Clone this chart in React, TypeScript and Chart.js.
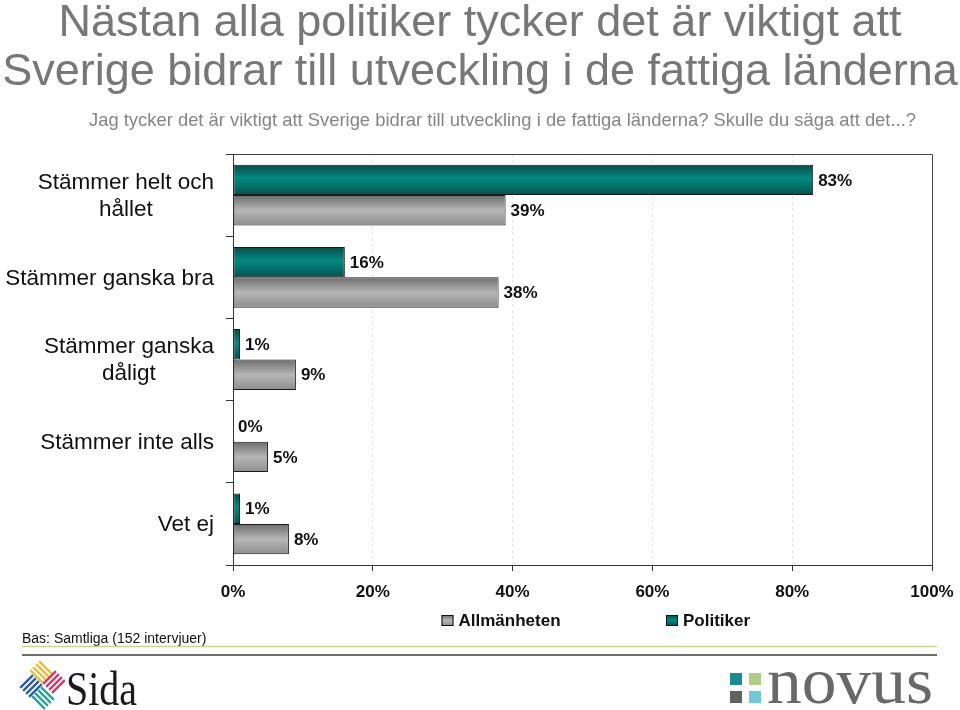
import React, { useEffect, useRef } from "react";
import { Chart, registerables } from "chart.js";

Chart.register(...registerables);

// ---------- data ----------
const categories: (string | string[])[] = [
  ["Stämmer helt och", "hållet"],
  "Stämmer ganska bra",
  ["Stämmer ganska", "dåligt"],
  "Stämmer inte alls",
  "Vet ej",
];
const politiker = [83, 16, 1, 0, 1];
const allmanheten = [39, 38, 9, 5, 8];
const xTickValues = [0, 20, 40, 60, 80, 100];
const seriesPolitiker = "Politiker";
const seriesAllmanheten = "Allmänheten";
const legendOrder = [seriesAllmanheten, seriesPolitiker];
const titleLines = [
  "Nästan alla politiker tycker det är viktigt att",
  "Sverige bidrar till utveckling i de fattiga länderna",
];
const subtitle =
  "Jag tycker det är viktigt att Sverige bidrar till utveckling i de fattiga länderna? Skulle du säga att det...?";
const footnote = "Bas: Samtliga (152 intervjuer)";
const logoLeft = "Sida";
const logoRight = "novus";

// ---------- styles ----------
const FONT = "'Liberation Sans', Arial, Helvetica, sans-serif";
const SERIF = "'Liberation Serif', 'Times New Roman', serif";
const CAT_PCT = 0.74;
const TEAL_STOPS: [number, string][] = [
  [0, "#0b4a47"],
  [0.45, "#038a82"],
  [1, "#06524e"],
];
const GRAY_STOPS: [number, string][] = [
  [0, "#6c6c6c"],
  [0.5, "#b6b6b6"],
  [1, "#8e8e8e"],
];

function grad(ctx: CanvasRenderingContext2D, y0: number, y1: number, stops: [number, string][]) {
  const g = ctx.createLinearGradient(0, y0, 0, y1);
  stops.forEach(([o, c]) => g.addColorStop(o, c));
  return g;
}

function barFill(stops: [number, string][], fallback: string) {
  return (c: any) => {
    const chart = c.chart;
    const y = chart.scales && chart.scales.y;
    if (!y || c.dataIndex === undefined || c.type !== "data") return fallback;
    const n = categories.length;
    const catH = (y.bottom - y.top) / n;
    const h = (catH * CAT_PCT) / 2;
    const center = y.getPixelForValue(c.dataIndex);
    const top = c.datasetIndex === 0 ? center - h : center;
    if (!isFinite(top) || !isFinite(h) || h <= 0) return fallback;
    return grad(chart.ctx, top, top + h, stops);
  };
}

function drawStripes(
  ctx: CanvasRenderingContext2D,
  cx: number,
  cy: number,
  dir: 1 | -1,
  color: string
) {
  const s = Math.SQRT1_2;
  const d = [s, dir * s];
  const p = [s, -dir * s];
  ctx.strokeStyle = color;
  ctx.lineWidth = 2.3;
  ctx.lineCap = "butt";
  for (let k = 0; k < 4; k++) {
    const off = (k - 1.5) * 4.2;
    const mx = cx + p[0] * off;
    const my = cy + p[1] * off;
    ctx.beginPath();
    ctx.moveTo(mx - d[0] * 9, my - d[1] * 9);
    ctx.lineTo(mx + d[0] * 9, my + d[1] * 9);
    ctx.stroke();
  }
}

const decorPlugin = {
  id: "decor",
  afterDatasetsDraw(chart: any) {
    const { ctx } = chart;
    ctx.save();
    ctx.font = `bold 17px ${FONT}`;
    ctx.fillStyle = "#111";
    ctx.textAlign = "left";
    ctx.textBaseline = "middle";
    chart.data.datasets.forEach((ds: any, di: number) => {
      const meta = chart.getDatasetMeta(di);
      meta.data.forEach((el: any, i: number) => {
        ctx.fillText(`${ds.data[i]}%`, el.x + 5, el.y + 1);
      });
    });
    ctx.restore();
  },
  afterDraw(chart: any) {
    const { ctx, chartArea: ca, scales } = chart;
    ctx.save();

    // plot frame top + right
    ctx.strokeStyle = "#444";
    ctx.lineWidth = 1;
    ctx.beginPath();
    ctx.moveTo(ca.left, Math.round(ca.top) + 0.5);
    ctx.lineTo(Math.round(ca.right) + 0.5, Math.round(ca.top) + 0.5);
    ctx.lineTo(Math.round(ca.right) + 0.5, ca.bottom);
    ctx.stroke();

    // category labels
    const y = scales.y;
    ctx.font = `22.5px ${FONT}`;
    ctx.fillStyle = "#111";
    ctx.textBaseline = "middle";
    ctx.textAlign = "center";
    const rightEdge = 214;
    const lh = 27;
    categories.forEach((lab, i) => {
      const lines = Array.isArray(lab) ? lab : [lab];
      const w = Math.max(...lines.map((l) => ctx.measureText(l).width));
      const cx = rightEdge - w / 2;
      const cy = y.getPixelForValue(i);
      lines.forEach((l, k) => {
        ctx.fillText(l, cx, cy + (k - (lines.length - 1) / 2) * lh + 1);
      });
    });

    // legend
    const legendX = [441.5, 666];
    const legendY = 615;
    ctx.font = `bold 17px ${FONT}`;
    ctx.textAlign = "left";
    ctx.textBaseline = "middle";
    legendOrder.forEach((name, i) => {
      const x = legendX[i];
      const stops = name === seriesPolitiker ? TEAL_STOPS : GRAY_STOPS;
      ctx.fillStyle = grad(ctx, legendY, legendY + 11, stops);
      ctx.fillRect(x, legendY, 12, 11);
      ctx.strokeStyle = "#111";
      ctx.lineWidth = 1;
      ctx.strokeRect(x + 0.5, legendY + 0.5, 11, 10);
      ctx.fillStyle = "#111";
      ctx.fillText(name, x + 17, legendY + 6.5);
    });

    // titles
    ctx.textBaseline = "alphabetic";
    ctx.textAlign = "center";
    ctx.fillStyle = "#777";
    ctx.font = `45px ${FONT}`;
    ctx.fillText(titleLines[0], 480, 36);
    ctx.fillText(titleLines[1], 480, 85);
    ctx.textAlign = "left";
    ctx.fillStyle = "#858585";
    ctx.font = `18.4px ${FONT}`;
    ctx.fillText(subtitle, 89, 126);

    // footnote
    ctx.fillStyle = "#111";
    ctx.font = `14px ${FONT}`;
    ctx.fillText(footnote, 22, 642.5);

    // footer lines
    ctx.strokeStyle = "#c6d68c";
    ctx.lineWidth = 1.5;
    ctx.beginPath();
    ctx.moveTo(22, 646.5);
    ctx.lineTo(937, 646.5);
    ctx.stroke();
    ctx.strokeStyle = "#6e6e6e";
    ctx.lineWidth = 2;
    ctx.beginPath();
    ctx.moveTo(22, 655);
    ctx.lineTo(937, 655);
    ctx.stroke();

    // Sida logo
    drawStripes(ctx, 41, 672, 1, "#f0bd2c");
    drawStripes(ctx, 54, 682, -1, "#d4336a");
    drawStripes(ctx, 31, 686, -1, "#2d5aa6");
    drawStripes(ctx, 43, 698, 1, "#1fa596");
    ctx.fillStyle = "#1a1a1a";
    ctx.font = `48px ${SERIF}`;
    {
      const w = ctx.measureText(logoLeft).width;
      ctx.save();
      ctx.translate(66, 705);
      ctx.scale(71 / w, 1);
      ctx.fillText(logoLeft, 0, 0);
      ctx.restore();
    }

    // novus logo
    const sq: [number, number, string][] = [
      [730, 673, "#1a8b8e"],
      [749, 673, "#b3cb8a"],
      [730, 691, "#626262"],
      [749, 691, "#6fcad6"],
    ];
    sq.forEach(([x, yy, c]) => {
      ctx.fillStyle = c;
      ctx.fillRect(x, yy, 12, 12);
    });
    ctx.fillStyle = "#686868";
    ctx.font = `66px ${SERIF}`;
    {
      const w = ctx.measureText(logoRight).width;
      ctx.save();
      ctx.translate(767, 703);
      ctx.scale(166 / w, 1);
      ctx.fillText(logoRight, 0, 0);
      ctx.restore();
    }

    ctx.restore();
  },
};

export default function App() {
  const ref = useRef<HTMLCanvasElement>(null);
  useEffect(() => {
    const canvas = ref.current;
    if (!canvas) return;
    const chart = new Chart(canvas, {
      type: "bar",
      data: {
        labels: categories as any,
        datasets: [
          {
            label: seriesPolitiker,
            data: politiker,
            backgroundColor: barFill(TEAL_STOPS, "#02877f") as any,
            borderColor: "#1a1a1a",
            borderWidth: 1,
            borderSkipped: false,
            categoryPercentage: CAT_PCT,
            barPercentage: 1,
          },
          {
            label: seriesAllmanheten,
            data: allmanheten,
            backgroundColor: barFill(GRAY_STOPS, "#a0a0a0") as any,
            borderColor: "#1a1a1a",
            borderWidth: 1,
            borderSkipped: false,
            categoryPercentage: CAT_PCT,
            barPercentage: 1,
          },
        ],
      },
      options: {
        indexAxis: "y",
        responsive: false,
        animation: false,
        devicePixelRatio: 1,
        layout: { padding: { left: 226, right: 28, top: 154, bottom: 96.6 } },
        plugins: {
          legend: { display: false },
          tooltip: { enabled: false },
          title: { display: false },
        },
        scales: {
          x: {
            type: "linear",
            position: "bottom",
            min: 0,
            max: 100,
            afterBuildTicks: (scale: any) => {
              scale.ticks = xTickValues.map((v) => ({ value: v }));
            },
            afterFit: (scale: any) => {
              scale.paddingLeft = 0;
              scale.paddingRight = 0;
            },
            ticks: {
              callback: (v: any) => `${v}%`,
              font: { family: FONT, size: 17, weight: "bold" },
              color: "#111",
              padding: 11,
              maxRotation: 0,
              autoSkip: false,
            },
            grid: {
              color: (c: any) =>
                c.tick && (c.tick.value === 0 || c.tick.value === 100) ? "rgba(0,0,0,0)" : "#e4e4e4",
              lineWidth: 1,
              drawTicks: true,
              tickLength: 6,
              tickColor: "#333",
              tickWidth: 1,
            },
            border: { display: true, color: "#333", width: 1, dash: [3, 3] },
          },
          y: {
            type: "category",
            offset: true,
            ticks: { display: false },
            grid: {
              offset: true,
              drawOnChartArea: false,
              drawTicks: true,
              tickLength: 7,
              color: "#333",
              tickColor: "#333",
            },
            border: { display: true, color: "#333", width: 1 },
          },
        },
      },
      plugins: [decorPlugin],
    } as any);
    return () => chart.destroy();
  }, []);
  return (
    <div style={{ position: "fixed", left: 0, top: 0, width: 960, height: 710, background: "#fff" }}>
      <canvas ref={ref} width={960} height={710} style={{ display: "block", width: 960, height: 710 }} />
    </div>
  );
}
